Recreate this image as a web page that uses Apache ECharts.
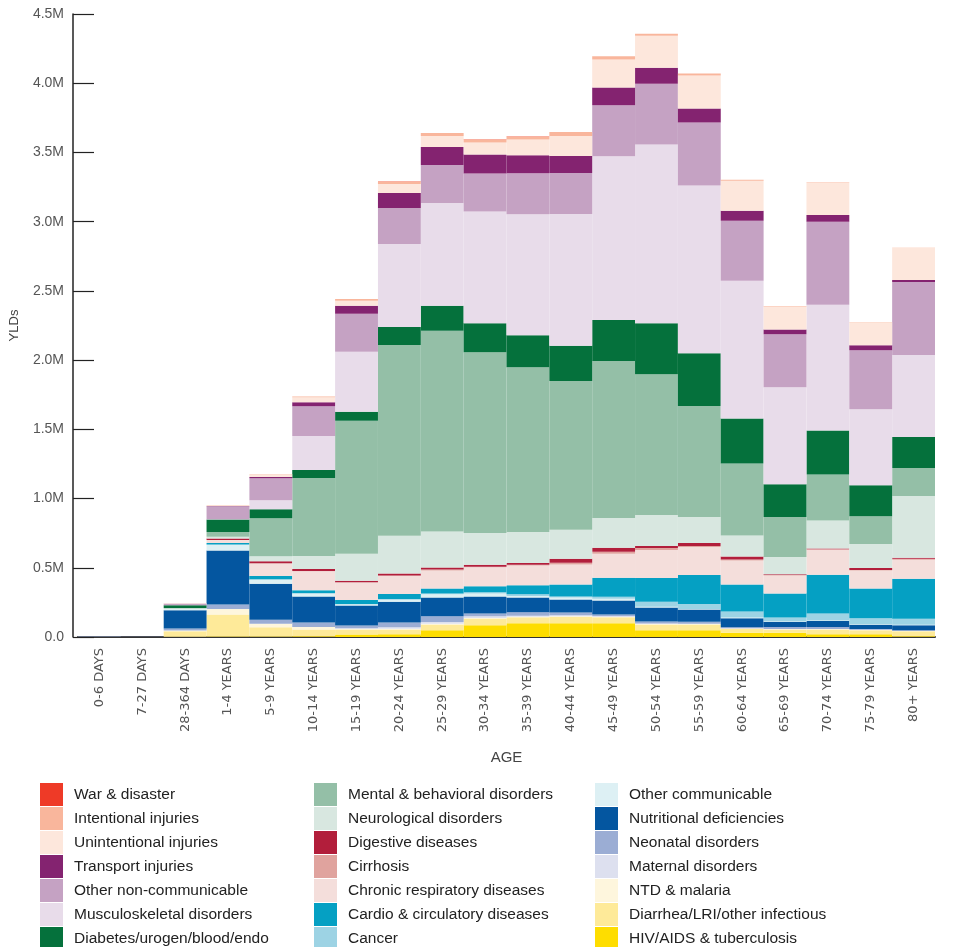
<!DOCTYPE html>
<html>
<head>
<meta charset="utf-8">
<script src="https://cdn.jsdelivr.net/npm/echarts@6/dist/echarts.min.js"></script>
<style>
  html, body { margin: 0; padding: 0; background: #fff; }
  #chart { width: 959px; height: 947px; }
</style>
</head>
<body>
<div id="chart"></div>
<script>
// age groups on the x axis
const ages = ['0-6 DAYS', '7-27 DAYS', '28-364 DAYS', '1-4 YEARS', '5-9 YEARS', '10-14 YEARS',
  '15-19 YEARS', '20-24 YEARS', '25-29 YEARS', '30-34 YEARS', '35-39 YEARS', '40-44 YEARS',
  '45-49 YEARS', '50-54 YEARS', '55-59 YEARS', '60-64 YEARS', '65-69 YEARS', '70-74 YEARS',
  '75-79 YEARS', '80+ YEARS'];

// YLDs in millions, per cause
const hivTb       = [0, 0, 0.002, 0.003, 0.004, 0.005, 0.018, 0.02, 0.048, 0.084, 0.099, 0.1, 0.099, 0.048, 0.048, 0.03, 0.03, 0.02, 0.02, 0.005];
const diarrhea    = [0, 0, 0.04, 0.159, 0.066, 0.049, 0.036, 0.035, 0.043, 0.05, 0.043, 0.047, 0.043, 0.043, 0.043, 0.03, 0.025, 0.035, 0.029, 0.036];
const ntdMalaria  = [0, 0, 0.005, 0.041, 0.026, 0.019, 0.005, 0.005, 0.004, 0.004, 0.004, 0.003, 0.003, 0.003, 0.003, 0.002, 0.002, 0.002, 0.002, 0.002];
const maternal    = [0, 0, 0, 0, 0, 0, 0.004, 0.01, 0.014, 0.012, 0.007, 0.007, 0.007, 0.003, 0.002, 0.001, 0.001, 0.001, 0.001, 0.001];
const neonatal    = [0.004, 0.002, 0.015, 0.031, 0.029, 0.031, 0.02, 0.035, 0.04, 0.02, 0.025, 0.02, 0.01, 0.015, 0.015, 0.008, 0.014, 0.014, 0.005, 0.005];
const nutritional = [0, 0, 0.132, 0.39, 0.26, 0.188, 0.144, 0.15, 0.137, 0.123, 0.108, 0.094, 0.101, 0.101, 0.087, 0.065, 0.036, 0.043, 0.031, 0.036];
const otherComm   = [0, 0, 0.012, 0.043, 0.029, 0.021, 0.007, 0.014, 0.022, 0.022, 0.01, 0.014, 0.014, 0.005, 0.005, 0.005, 0.004, 0.004, 0.004, 0.004];
const cancer      = [0, 0, 0, 0.002, 0.003, 0.004, 0.005, 0.006, 0.007, 0.008, 0.012, 0.007, 0.014, 0.036, 0.036, 0.043, 0.029, 0.05, 0.043, 0.043];
const cardio      = [0, 0, 0, 0.01, 0.024, 0.021, 0.029, 0.036, 0.036, 0.043, 0.065, 0.087, 0.137, 0.173, 0.209, 0.195, 0.173, 0.281, 0.216, 0.289];
const respiratory = [0, 0, 0, 0.022, 0.089, 0.137, 0.125, 0.13, 0.13, 0.137, 0.144, 0.144, 0.173, 0.202, 0.202, 0.173, 0.13, 0.18, 0.13, 0.137];
const cirrhosis   = [0, 0, 0, 0, 0.002, 0.002, 0.002, 0.003, 0.007, 0.004, 0.004, 0.014, 0.014, 0.014, 0.007, 0.007, 0.003, 0.003, 0.003, 0.007];
const digestive   = [0, 0, 0, 0.01, 0.015, 0.014, 0.012, 0.014, 0.014, 0.014, 0.014, 0.029, 0.029, 0.014, 0.022, 0.022, 0.007, 0.007, 0.014, 0.007];
const neuro       = [0, 0, 0, 0.014, 0.036, 0.094, 0.195, 0.274, 0.26, 0.23, 0.224, 0.209, 0.216, 0.224, 0.188, 0.152, 0.123, 0.202, 0.173, 0.447];
const mental      = [0, 0, 0.004, 0.033, 0.274, 0.563, 0.96, 1.378, 1.45, 1.306, 1.19, 1.075, 1.133, 1.017, 0.801, 0.52, 0.289, 0.332, 0.202, 0.202];
const diabetes    = [0, 0, 0.02, 0.091, 0.065, 0.058, 0.065, 0.13, 0.18, 0.209, 0.231, 0.253, 0.296, 0.368, 0.382, 0.325, 0.238, 0.317, 0.224, 0.224];
const musculo     = [0, 0, 0, 0.002, 0.065, 0.245, 0.433, 0.599, 0.743, 0.808, 0.873, 0.952, 1.183, 1.291, 1.212, 0.996, 0.7, 0.909, 0.548, 0.592];
const otherNcd    = [0, 0, 0.012, 0.094, 0.159, 0.216, 0.274, 0.26, 0.274, 0.274, 0.296, 0.296, 0.368, 0.44, 0.455, 0.433, 0.382, 0.599, 0.426, 0.527];
const transport   = [0, 0, 0, 0.002, 0.01, 0.029, 0.058, 0.108, 0.13, 0.137, 0.13, 0.123, 0.13, 0.115, 0.101, 0.072, 0.036, 0.05, 0.036, 0.014];
const unintent    = [0, 0, 0.004, 0.005, 0.019, 0.036, 0.036, 0.065, 0.079, 0.087, 0.115, 0.144, 0.202, 0.231, 0.238, 0.216, 0.166, 0.231, 0.166, 0.231];
const intent      = [0, 0, 0, 0.002, 0.002, 0.005, 0.014, 0.019, 0.022, 0.022, 0.022, 0.029, 0.022, 0.014, 0.014, 0.007, 0.003, 0.003, 0.002, 0.002];
const war         = [0, 0, 0, 0, 0, 0, 0, 0.001, 0.001, 0.001, 0.001, 0.001, 0.001, 0.001, 0.001, 0, 0, 0, 0, 0];

const yTicks = [0, 0.5, 1, 1.5, 2, 2.5, 3, 3.5, 4, 4.5];

// bottom of the stack first
const causes = [
  ['HIV/AIDS & tuberculosis', hivTb, '#fedd00'],
  ['Diarrhea/LRI/other infectious', diarrhea, '#feea99'],
  ['NTD & malaria', ntdMalaria, '#fef6dd'],
  ['Maternal disorders', maternal, '#dde0ef'],
  ['Neonatal disorders', neonatal, '#9badd4'],
  ['Nutritional deficiencies', nutritional, '#0456a0'],
  ['Other communicable', otherComm, '#ddf0f4'],
  ['Cancer', cancer, '#9dd3e4'],
  ['Cardio & circulatory diseases', cardio, '#05a0c3'],
  ['Chronic respiratory diseases', respiratory, '#f4dedb'],
  ['Cirrhosis', cirrhosis, '#e0a39e'],
  ['Digestive diseases', digestive, '#b21e3b'],
  ['Neurological disorders', neuro, '#d8e7e0'],
  ['Mental & behavioral disorders', mental, '#94bfa7'],
  ['Diabetes/urogen/blood/endo', diabetes, '#05713c'],
  ['Musculoskeletal disorders', musculo, '#e8dcea'],
  ['Other non-communicable', otherNcd, '#c5a2c3'],
  ['Transport injuries', transport, '#842370'],
  ['Unintentional injuries', unintent, '#fde7dc'],
  ['Intentional injuries', intent, '#f9b69c'],
  ['War & disaster', war, '#ee3a27']
];

const names = causes.map(c => c[0]).reverse();
const legendCols = [names.slice(0, 7), names.slice(7, 14), names.slice(14, 21)];
const legendLeft = [40, 314, 595];

let series = [];
for (let i = 0; i < causes.length; i++) {
  series.push({
    name: causes[i][0],
    type: 'bar',
    stack: 'total',
    barCategoryGap: '0%',
    itemStyle: { color: causes[i][2] },
    emphasis: { disabled: true },
    data: causes[i][1]
  });
}

let legends = [];
for (let i = 0; i < 3; i++) {
  legends.push({
    orient: 'vertical',
    left: legendLeft[i],
    top: 783,
    height: 170,
    padding: 0,
    itemWidth: 23,
    itemHeight: 23,
    itemGap: 1,
    icon: 'rect',
    selectedMode: false,
    data: legendCols[i],
    textStyle: { fontFamily: 'Liberation Sans', fontSize: 15.5, color: '#222', padding: [0, 0, 0, 6] }
  });
}

const chart = echarts.init(document.getElementById('chart'), null, { renderer: 'canvas' });
chart.setOption({
  animation: false,
  backgroundColor: '#fff',
  grid: { left: 77, right: 24, top: 14, bottom: 310, containLabel: false },
  legend: legends,
  xAxis: {
    type: 'category',
    data: ages,
    name: 'AGE',
    nameLocation: 'middle',
    nameGap: 113,
    nameTextStyle: { fontFamily: 'Liberation Sans', fontSize: 15, color: '#444' },
    axisLine: { lineStyle: { color: '#333', width: 2 } },
    axisTick: { show: false },
    axisLabel: { rotate: 90, margin: 11, fontFamily: 'DejaVu Sans', fontSize: 13, color: '#555', interval: 0 }
  },
  yAxis: {
    type: 'value',
    min: 0,
    max: yTicks[yTicks.length - 1],
    interval: 0.5,
    offset: 5,
    name: 'YLDs',
    nameLocation: 'middle',
    nameGap: 52,
    nameTextStyle: { fontFamily: 'Liberation Sans', fontSize: 13, color: '#444' },
    axisLine: { show: true, lineStyle: { color: '#222', width: 1.5 } },
    axisTick: { show: true, inside: true, length: 21, lineStyle: { color: '#222', width: 1.2 } },
    splitLine: { show: false },
    axisLabel: {
      margin: 9,
      fontFamily: 'Liberation Sans',
      fontSize: 14,
      color: '#555',
      formatter: v => v === 0 ? '0.0' : v.toFixed(1) + 'M'
    }
  },
  series: series
});
</script>
</body>
</html>
